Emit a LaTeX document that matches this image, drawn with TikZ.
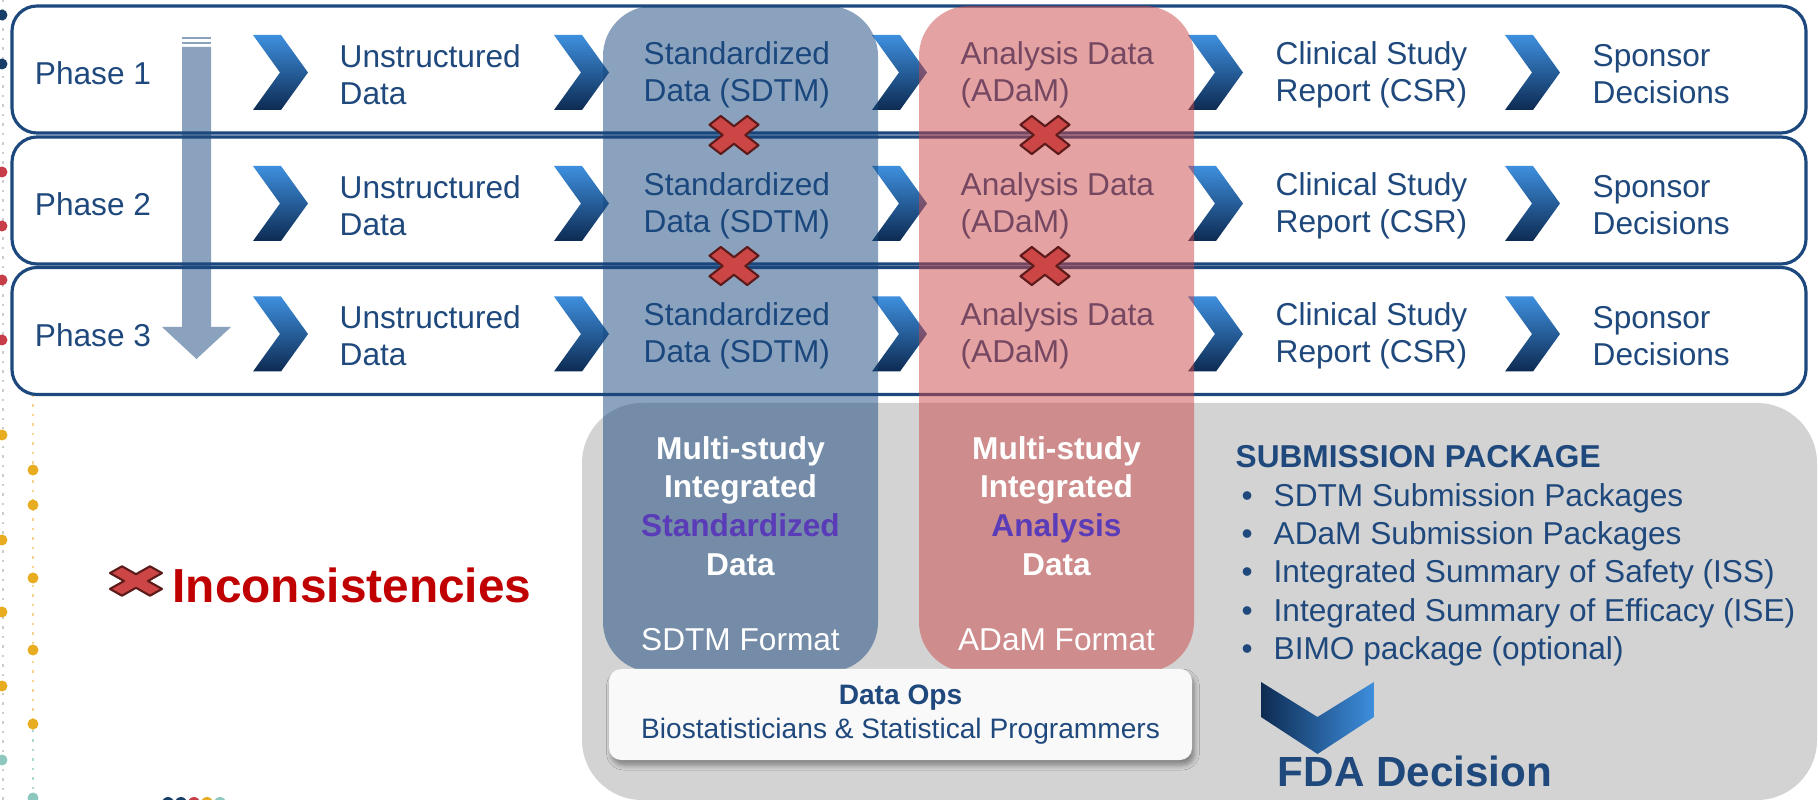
\documentclass[tikz,border=0pt]{standalone}
\usepackage{fontspec}
\setmainfont{Liberation Sans}
\usepackage{tikz}
\usetikzlibrary{shadows.blur,positioning}
\definecolor{azulTexto}{RGB}{31,73,125}
\definecolor{azulBorde}{RGB}{28,72,126}
\definecolor{azulClaro}{RGB}{62,143,222}
\definecolor{azulOscuro}{RGB}{13,43,82}
\definecolor{azulFlecha}{RGB}{138,162,189}
\definecolor{azulColumna}{RGB}{23,71,125}
\definecolor{rojoColumna}{RGB}{203,71,71}
\definecolor{grisCaja}{RGB}{211,211,211}
\definecolor{blancoCaja}{RGB}{249,249,249}
\definecolor{rojoCruz}{RGB}{204,70,70}
\definecolor{rojoBorde}{RGB}{92,26,26}
\definecolor{rojoTexto}{RGB}{192,0,0}
\definecolor{moradoTexto}{RGB}{91,60,184}
\definecolor{azulPunto}{RGB}{22,62,104}
\definecolor{rojoPunto}{RGB}{200,62,72}
\definecolor{amarilloPunto}{RGB}{232,172,32}
\definecolor{tealPunto}{RGB}{140,200,190}
\tikzstyle{rowbox}   =[draw=azulBorde, line width=0.9pt, rounded corners=0.25cm]
\tikzstyle{rowtext}  =[anchor=west, align=left, inner sep=0pt, text=azulTexto,
                       font=\fontsize{9}{10.5}\selectfont]
\tikzstyle{phasetext}=[inner sep=0pt, text=azulTexto,
                       font=\fontsize{9}{10.5}\selectfont]
\tikzstyle{column}   =[fill opacity=0.5, rounded corners=0.5cm]
\tikzstyle{coltext}  =[align=center, inner sep=0pt, text=white,
                       font=\bfseries\fontsize{9}{11}\selectfont]
\tikzstyle{fmttext}  =[inner sep=0pt, text=white, font=\fontsize{9}{11}\selectfont]
\tikzstyle{opsbox}   =[fill=blancoCaja, rounded corners=0.12cm, align=center,
                       minimum width=5.83cm, minimum height=0.91cm, text=azulTexto,
                       font=\fontsize{8}{9.5}\selectfont,
                       blur shadow={shadow xshift=0.25mm, shadow yshift=-0.5mm,
                       shadow blur radius=0.5mm, shadow blur steps=5,
                       shadow opacity=40}]
\tikzstyle{subtext}  =[anchor=west, align=left, inner sep=0pt, text=azulTexto,
                       font=\fontsize{9}{10.9}\selectfont]
\tikzset{chev/.pic={
    \shade[top color=azulClaro, bottom color=azulOscuro]
      (0,0.375) -- (0.28,0.375) -- (0.55,0) -- (0.28,-0.375) -- (0,-0.375) -- (0.27,0) -- cycle;},
  cruz/.pic={
    \draw[fill=rojoCruz, draw=rojoBorde, line width=0.6pt, line join=round]
      (0.424,0) -- (0.919,0.495) -- (0.495,0.919) -- (0,0.424) -- (-0.495,0.919)
      -- (-0.919,0.495) -- (-0.424,0) -- (-0.919,-0.495) -- (-0.495,-0.919)
      -- (0,-0.424) -- (0.495,-0.919) -- (0.919,-0.495) -- cycle;}}
\newcommand{\bul}{\hspace*{0.06cm}\makebox[0.32cm][l]{\textbullet}}

\begin{document}
\begin{tikzpicture}
    \useasboundingbox (0,0) rectangle (18.18,-8);

    % template dots on the left edge
    \draw[gray!40, dotted, line width=0.7pt] (0.03,0) -- (0.03,-8);
    \draw[amarilloPunto!50, dotted, line width=0.7pt] (0.33,-3.95) -- (0.33,-7.3);
    \draw[tealPunto!70, dotted, line width=0.7pt] (0.33,-7.3) -- (0.33,-8);
    \foreach \yy/\cc in {-0.15/azulPunto,-0.64/azulPunto,-1.72/rojoPunto,-2.26/rojoPunto,
                         -2.80/rojoPunto,-3.40/rojoPunto,-4.35/amarilloPunto,-5.40/amarilloPunto,
                         -6.12/amarilloPunto,-6.86/amarilloPunto,-7.60/tealPunto}
        \fill[\cc] (0.02,\yy) circle (0.055);
    \foreach \yy in {-4.70,-5.05,-5.78,-6.50,-7.24}
        \fill[amarilloPunto] (0.33,\yy) circle (0.055);
    \fill[tealPunto] (0.33,-7.98) circle (0.055);
    \foreach \xx/\cc in {1.68/azulPunto,1.81/azulPunto,1.94/rojoPunto,2.07/amarilloPunto,2.20/tealPunto}
        \fill[\cc] (\xx,-8.03) circle (0.06);

    % phase rows
    \foreach \r/\y in {1/-0.695,2/-2.005,3/-3.31}
        \fill[white, rounded corners=0.25cm] (0.12,{\y+0.635}) rectangle (18.06,{\y-0.635});

    \fill[azulFlecha] (1.82,-0.47) -- (2.11,-0.47) -- (2.11,-3.27) -- (2.31,-3.27)
        -- (1.965,-3.59) -- (1.62,-3.27) -- (1.82,-3.27) -- cycle;
    \fill[azulFlecha] (1.82,-0.37) rectangle (2.11,-0.395);
    \fill[azulFlecha] (1.82,-0.42) rectangle (2.11,-0.445);

    \foreach \r/\y in {1/-0.695,2/-2.005,3/-3.31} {
        \draw[rowbox] (0.12,{\y+0.635}) rectangle (18.06,{\y-0.635});
        \node[phasetext] (phase\r) at (0.93,{\y-0.04}) {Phase \r};
        \foreach \cx in {2.53,5.54,8.72,11.88,15.05}
            \pic at ({\cx},{\y-0.03}) {chev};
        \node[rowtext] (raw\r)  at (3.39,{\y-0.05})  {Unstructured\\Data};
        \node[rowtext] (sdtm\r) at (6.43,{\y-0.05})  {Standardized\\Data (SDTM)};
        \node[rowtext] (adam\r) at (9.60,{\y-0.05})  {Analysis Data\\(ADaM)};
        \node[rowtext] (csr\r)  at (12.75,{\y-0.05}) {Clinical Study\\Report (CSR)};
        \node[rowtext] (dec\r)  at (15.92,{\y-0.05}) {Sponsor\\Decisions};
    }

    % lower panel
    \fill[grisCaja, rounded corners=0.6cm] (5.82,-4.03) rectangle (18.17,-8.0);

    \fill[column, azulColumna] (6.03,-0.06) rectangle (8.78,-6.72);
    \fill[column, rojoColumna] (9.19,-0.06) rectangle (11.94,-6.72);

    \foreach \cx in {7.34,10.45}
        \foreach \cy in {-1.35,-2.66}
            \pic[xscale=0.267, yscale=0.207] at (\cx,\cy) {cruz};

    \node[coltext] (multiSdtm) at (7.405,-5.06)
        {Multi-study\\Integrated\\\textcolor{moradoTexto}{Standardized}\\Data};
    \node[fmttext] (fmtSdtm) at (7.405,-6.40) {SDTM Format};
    \node[coltext] (multiAdam) at (10.565,-5.06)
        {Multi-study\\Integrated\\\textcolor{moradoTexto}{Analysis}\\Data};
    \node[fmttext] (fmtAdam) at (10.565,-6.40) {ADaM Format};

    \node[opsbox] (ops) at (9.005,-7.145)
        {\textbf{Data Ops}\\Biostatisticians \& Statistical Programmers};

    \node[subtext] (subpkg) at (12.35,-5.56)
        {\textbf{SUBMISSION PACKAGE}\\
         \bul SDTM Submission Packages\\
         \bul ADaM Submission Packages\\
         \bul Integrated Summary of Safety (ISS)\\
         \bul Integrated Summary of Efficacy (ISE)\\
         \bul BIMO package (optional)};

    \shade[left color=azulOscuro, right color=azulClaro]
        (12.61,-6.82) -- (13.175,-7.17) -- (13.74,-6.82) -- (13.74,-7.17)
        -- (13.175,-7.54) -- (12.61,-7.17) -- cycle;
    \node[inner sep=0pt, text=azulTexto, font=\bfseries\fontsize{12}{14}\selectfont]
        (fda) at (14.15,-7.71) {FDA Decision};

    % legend
    \pic[xscale=0.283, yscale=0.16] at (1.36,-5.81) {cruz};
    \node[anchor=west, inner sep=0pt, text=rojoTexto,
          font=\bfseries\fontsize{13.6}{16}\selectfont]
        (incons) at (1.72,-5.855) {Inconsistencies};
\end{tikzpicture}
\end{document}
